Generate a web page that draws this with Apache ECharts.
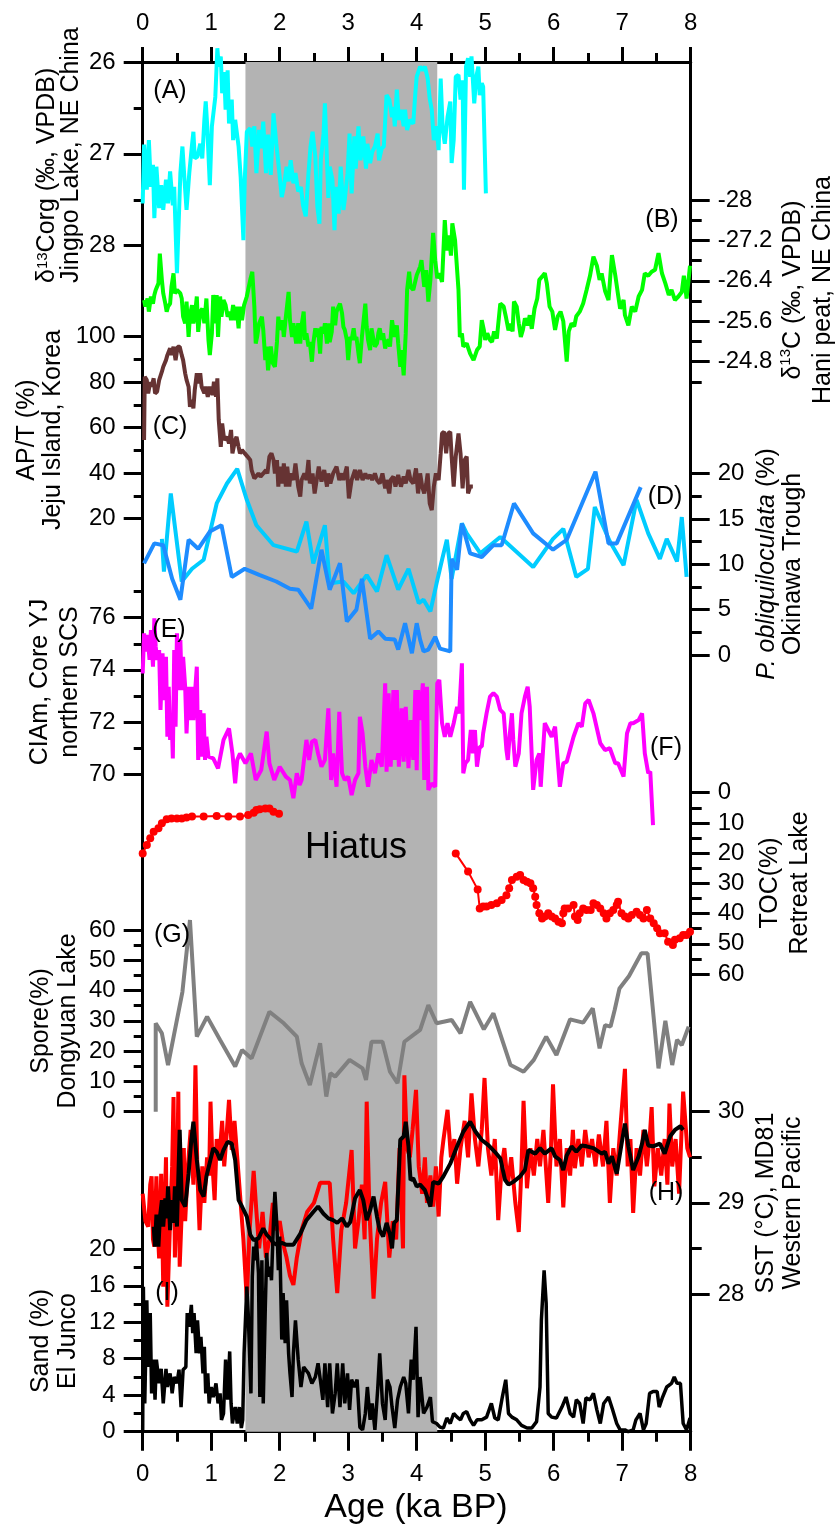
<!DOCTYPE html>
<html>
<head>
<meta charset="utf-8">
<title>Holocene proxy records</title>
<script src="https://cdn.jsdelivr.net/npm/echarts@6/dist/echarts.min.js"></script>
<style>
  html, body { margin: 0; padding: 0; background: #fff; }
  #chart { width: 836px; height: 1526px; }
</style>
</head>
<body>
<div id="chart"></div>
<script>
// ---------- data (age in ka BP, value) ----------
const hiatus = [1.5, 4.3]

// (A) Jingpo Lake d13Corg
const jingpoCorg = [[0.00,27.54],[0.02,26.90],[0.06,27.39],[0.09,26.85],[0.12,27.36],[0.15,27.12],[0.17,27.70],[0.20,27.14],[0.24,27.59],[0.27,27.34],[0.30,27.61],[0.34,27.28],[0.37,27.54],[0.40,27.19],[0.44,27.56],[0.46,27.36],[0.50,28.30],[0.55,27.21],[0.58,26.92],[0.61,27.28],[0.64,27.61],[0.68,27.21],[0.72,26.90],[0.74,26.76],[0.76,27.05],[0.80,27.03],[0.84,26.89],[0.87,27.05],[0.90,26.63],[0.92,26.43],[0.94,26.67],[0.98,27.34],[1.01,26.70],[1.06,26.38],[1.09,25.85],[1.11,26.05],[1.14,25.94],[1.16,26.34],[1.19,26.11],[1.21,26.52],[1.24,26.09],[1.26,26.67],[1.30,26.41],[1.32,26.85],[1.35,26.63],[1.37,26.61],[1.40,26.92],[1.43,27.25],[1.47,27.94],[1.49,27.28],[1.52,26.76],[1.57,26.72],[1.60,26.92],[1.63,26.70],[1.66,27.21],[1.70,26.74],[1.73,26.94],[1.76,26.65],[1.80,27.21],[1.83,26.79],[1.87,27.23],[1.91,26.56],[1.95,26.89],[1.98,27.10],[2.03,27.47],[2.06,27.36],[2.10,27.14],[2.13,27.30],[2.16,27.07],[2.20,27.32],[2.23,27.21],[2.27,27.41],[2.31,27.36],[2.34,27.56],[2.38,27.68],[2.42,27.21],[2.45,26.92],[2.48,26.76],[2.52,27.03],[2.55,27.58],[2.58,27.76],[2.60,27.07],[2.64,26.78],[2.66,26.45],[2.69,27.07],[2.71,27.48],[2.73,27.14],[2.77,27.28],[2.80,27.83],[2.82,27.36],[2.86,27.65],[2.89,27.14],[2.93,27.61],[2.95,27.50],[2.99,27.21],[3.02,26.78],[3.05,27.43],[3.09,26.81],[3.11,27.16],[3.15,26.70],[3.18,27.07],[3.22,26.81],[3.26,27.16],[3.28,26.89],[3.32,27.10],[3.35,26.98],[3.39,26.92],[3.43,26.78],[3.45,27.07],[3.49,26.94],[3.52,26.92],[3.56,26.36],[3.60,26.41],[3.64,26.60],[3.66,26.49],[3.68,26.70],[3.71,26.30],[3.74,26.63],[3.77,26.52],[3.81,26.70],[3.83,26.52],[3.86,26.74],[3.90,26.63],[3.95,26.67],[3.98,26.34],[4.00,26.16],[4.05,26.05],[4.09,26.09],[4.12,26.05],[4.16,26.18],[4.19,26.40],[4.22,26.52],[4.25,26.85],[4.29,26.70],[4.32,26.96],[4.35,26.18],[4.38,26.74],[4.41,26.89],[4.45,26.60],[4.49,26.43],[4.51,27.10],[4.54,26.85],[4.57,26.16],[4.61,26.14],[4.64,26.41],[4.67,26.20],[4.69,27.39],[4.72,26.05],[4.75,25.96],[4.78,26.16],[4.80,25.94],[4.84,26.45],[4.87,26.16],[4.90,26.05],[4.92,26.36],[4.95,26.23],[4.97,26.27],[5.01,27.43]]
const jingpoTicks = [26, 27, 28]
const jingpoMinor = [26.5, 27.5]

// (B) Hani peat d13C
const haniC = [[0.02,-26.02],[0.04,-25.89],[0.07,-26.05],[0.09,-25.79],[0.12,-26.09],[0.15,-25.95],[0.17,-26.12],[0.19,-26.22],[0.23,-26.35],[0.25,-26.94],[0.28,-26.42],[0.30,-26.15],[0.33,-25.95],[0.35,-25.79],[0.37,-25.89],[0.40,-25.95],[0.42,-26.28],[0.45,-26.55],[0.47,-26.15],[0.50,-26.22],[0.55,-26.15],[0.57,-26.05],[0.59,-25.69],[0.62,-25.56],[0.64,-25.99],[0.67,-25.29],[0.69,-25.72],[0.72,-25.92],[0.74,-25.56],[0.76,-25.69],[0.79,-26.09],[0.81,-25.39],[0.84,-25.79],[0.87,-25.85],[0.90,-25.56],[0.93,-26.05],[0.96,-25.23],[0.98,-24.93],[1.01,-25.36],[1.03,-26.12],[1.06,-25.56],[1.08,-26.12],[1.10,-25.29],[1.13,-26.09],[1.15,-25.69],[1.18,-26.02],[1.21,-25.92],[1.24,-25.69],[1.27,-25.79],[1.29,-25.62],[1.32,-25.92],[1.35,-25.62],[1.37,-25.89],[1.40,-25.46],[1.42,-25.89],[1.45,-25.62],[1.48,-25.92],[1.52,-26.09],[1.57,-26.42],[1.60,-26.58],[1.63,-25.89],[1.65,-25.16],[1.67,-25.29],[1.70,-25.56],[1.74,-25.69],[1.76,-25.43],[1.79,-24.83],[1.81,-25.10],[1.83,-24.63],[1.87,-25.10],[1.90,-24.77],[1.93,-24.70],[1.96,-25.19],[1.98,-25.69],[2.00,-25.43],[2.04,-25.62],[2.06,-25.29],[2.09,-25.69],[2.13,-26.18],[2.15,-25.62],[2.18,-25.29],[2.20,-25.56],[2.24,-25.16],[2.27,-25.56],[2.30,-25.16],[2.32,-25.52],[2.35,-25.79],[2.37,-25.23],[2.39,-25.36],[2.42,-25.10],[2.44,-25.19],[2.47,-24.80],[2.49,-25.16],[2.52,-25.46],[2.54,-25.29],[2.56,-25.46],[2.59,-24.96],[2.61,-25.49],[2.64,-25.36],[2.66,-25.56],[2.69,-25.16],[2.71,-25.56],[2.73,-25.19],[2.76,-25.39],[2.78,-25.89],[2.81,-25.52],[2.83,-25.79],[2.86,-25.89],[2.88,-25.95],[2.91,-25.76],[2.93,-25.49],[2.95,-25.43],[2.98,-25.23],[3.00,-24.83],[3.03,-25.29],[3.05,-25.23],[3.08,-25.46],[3.10,-25.23],[3.12,-25.29],[3.15,-24.96],[3.17,-24.77],[3.20,-25.29],[3.22,-25.29],[3.25,-25.95],[3.27,-25.49],[3.29,-25.23],[3.32,-25.03],[3.34,-25.46],[3.37,-25.23],[3.39,-25.10],[3.42,-25.16],[3.44,-25.36],[3.46,-25.46],[3.49,-25.23],[3.51,-25.36],[3.54,-25.06],[3.56,-25.19],[3.59,-25.23],[3.61,-25.10],[3.64,-25.62],[3.66,-25.43],[3.68,-25.29],[3.71,-25.52],[3.73,-25.16],[3.76,-24.70],[3.78,-25.03],[3.81,-24.53],[3.84,-25.36],[3.86,-26.22],[3.89,-26.58],[3.91,-26.28],[3.95,-26.22],[4.00,-26.51],[4.05,-26.68],[4.07,-26.81],[4.11,-26.28],[4.14,-26.61],[4.17,-25.99],[4.20,-26.42],[4.24,-27.35],[4.27,-26.81],[4.30,-26.45],[4.33,-26.55],[4.37,-26.38],[4.41,-27.60],[4.44,-27.00],[4.47,-27.30],[4.50,-26.90],[4.52,-27.54],[4.56,-27.20],[4.61,-26.22],[4.63,-25.29],[4.66,-25.36],[4.68,-25.10],[4.73,-25.16],[4.78,-24.96],[4.83,-24.83],[4.88,-25.03],[4.92,-25.10],[4.95,-25.62],[4.98,-25.43],[5.00,-25.23],[5.03,-25.36],[5.07,-25.23],[5.10,-25.19],[5.13,-25.40],[5.17,-25.26],[5.22,-25.95],[5.27,-25.89],[5.30,-25.70],[5.34,-25.42],[5.37,-25.55],[5.40,-25.40],[5.42,-25.99],[5.46,-25.89],[5.49,-25.56],[5.52,-25.29],[5.55,-25.43],[5.58,-25.66],[5.62,-25.52],[5.65,-25.72],[5.68,-25.45],[5.72,-25.85],[5.76,-26.05],[5.79,-26.42],[5.84,-26.50],[5.87,-26.55],[5.90,-26.35],[5.94,-25.89],[5.98,-25.79],[6.02,-25.43],[6.06,-25.70],[6.10,-25.79],[6.14,-25.60],[6.19,-24.80],[6.22,-25.40],[6.26,-25.56],[6.30,-25.50],[6.33,-25.70],[6.38,-25.79],[6.43,-25.95],[6.48,-26.22],[6.53,-26.50],[6.58,-26.88],[6.63,-26.70],[6.67,-26.42],[6.70,-26.55],[6.75,-26.20],[6.80,-26.02],[6.85,-26.91],[6.90,-26.50],[6.94,-26.12],[6.97,-25.85],[7.02,-26.02],[7.04,-25.72],[7.09,-25.52],[7.14,-25.89],[7.19,-25.79],[7.24,-26.09],[7.29,-26.22],[7.33,-26.55],[7.38,-26.50],[7.43,-26.58],[7.48,-26.62],[7.53,-26.95],[7.58,-26.55],[7.63,-26.35],[7.68,-26.12],[7.72,-26.22],[7.77,-26.02],[7.82,-26.09],[7.87,-26.18],[7.90,-26.50],[7.94,-26.05],[7.99,-26.70]]
const haniTicks = [-28, -27.2, -26.4, -25.6, -24.8]
const haniMinor = [-27.6, -26.8, -26.0, -25.2, -24.4]

// (C) Jeju Island AP/T
const jejuAPT = [[0.02,54.6],[0.03,82.4],[0.06,80.9],[0.08,75.1],[0.11,80.0],[0.13,78.0],[0.16,81.7],[0.18,75.1],[0.21,75.8],[0.24,80.9],[0.28,84.6],[0.30,86.8],[0.34,89.7],[0.36,91.9],[0.40,94.9],[0.42,91.9],[0.45,95.6],[0.48,89.7],[0.51,95.6],[0.54,95.6],[0.57,91.9],[0.59,89.7],[0.62,83.9],[0.64,81.0],[0.67,78.0],[0.69,69.2],[0.72,72.2],[0.74,68.5],[0.76,76.6],[0.79,83.9],[0.81,79.5],[0.84,83.9],[0.86,78.0],[0.90,75.1],[0.92,78.0],[0.95,73.6],[0.98,78.0],[1.02,74.4],[1.04,80.2],[1.07,73.6],[1.09,81.7],[1.11,63.4],[1.14,51.6],[1.16,61.9],[1.19,54.6],[1.23,56.0],[1.26,53.1],[1.29,59.0],[1.31,48.7],[1.35,54.6],[1.37,56.0],[1.40,51.6],[1.42,48.7],[1.45,50.2],[1.49,48.7],[1.53,47.3],[1.57,45.8],[1.59,41.4],[1.63,37.7],[1.65,37.0],[1.69,39.9],[1.72,38.5],[1.76,39.9],[1.80,41.4],[1.82,39.9],[1.85,47.3],[1.88,48.7],[1.91,45.8],[1.93,39.9],[1.96,45.8],[1.98,34.1],[2.00,42.9],[2.04,35.5],[2.06,44.3],[2.09,34.1],[2.11,42.9],[2.14,34.1],[2.16,39.9],[2.20,37.0],[2.23,44.3],[2.27,34.1],[2.30,29.7],[2.32,37.0],[2.36,39.9],[2.39,37.0],[2.42,45.8],[2.44,35.5],[2.48,39.9],[2.51,31.1],[2.54,37.0],[2.57,42.9],[2.61,36.3],[2.65,41.4],[2.69,34.1],[2.71,39.9],[2.74,35.5],[2.78,39.9],[2.83,42.9],[2.87,37.0],[2.91,39.9],[2.93,37.0],[2.98,42.9],[3.01,28.9],[3.05,37.0],[3.10,41.4],[3.13,37.0],[3.17,41.4],[3.21,37.0],[3.25,39.9],[3.28,37.7],[3.32,39.2],[3.35,37.0],[3.39,39.9],[3.42,37.0],[3.46,35.5],[3.50,39.9],[3.54,33.3],[3.56,37.0],[3.60,31.1],[3.62,37.0],[3.66,38.5],[3.69,34.1],[3.73,39.2],[3.77,34.1],[3.81,38.5],[3.84,35.5],[3.88,41.4],[3.91,37.0],[3.95,35.5],[3.99,42.1],[4.02,31.1],[4.05,39.9],[4.08,34.1],[4.11,31.1],[4.14,35.5],[4.16,39.9],[4.19,26.7],[4.22,23.8],[4.25,34.1],[4.28,39.9],[4.32,37.0],[4.35,48.7],[4.37,57.5],[4.40,58.2],[4.43,48.7],[4.46,57.5],[4.49,58.2],[4.51,47.3],[4.54,34.1],[4.57,47.3],[4.61,57.5],[4.64,48.7],[4.67,33.3],[4.70,45.8],[4.73,47.3],[4.75,31.1],[4.78,34.1],[4.82,34.1]]
const jejuTicks = [20, 40, 60, 80, 100]
const jejuMinor = [30, 50, 70, 90]

// (D) Okinawa Trough P. obliquiloculata, two cores
const okinawaLight = [[0.28,12.8],[0.31,9.2],[0.41,17.8],[0.57,8.1],[0.72,9.5],[0.89,10.5],[1.08,16.7],[1.23,18.9],[1.38,20.5],[1.52,17.1],[1.66,14.3],[1.91,12.1],[2.25,11.4],[2.39,14.7],[2.49,10.1],[2.66,14.3],[2.73,7.9],[2.93,8.1],[3.08,6.8],[3.27,8.8],[3.42,7.0],[3.56,11.0],[3.73,7.2],[3.88,9.5],[4.03,5.7],[4.10,6.1],[4.20,4.8],[4.29,7.9],[4.37,10.5],[4.44,12.7],[4.51,8.4],[4.66,14.5],[4.73,13.4],[4.93,11.2],[5.22,13.0],[5.70,9.7],[5.99,12.8],[6.14,13.9],[6.33,8.6],[6.50,9.5],[6.60,16.3],[6.82,12.5],[7.02,9.9],[7.21,17.1],[7.38,13.4],[7.55,10.6],[7.65,12.8],[7.80,10.3],[7.87,15.2],[7.94,8.6]]
const okinawaDark = [[0.02,10.1],[0.17,12.3],[0.30,12.1],[0.43,8.4],[0.55,6.1],[0.67,12.7],[0.81,11.7],[0.98,13.6],[1.15,14.3],[1.30,8.6],[1.49,9.5],[1.71,8.8],[1.95,8.1],[2.15,7.3],[2.27,7.2],[2.46,5.1],[2.61,11.6],[2.73,7.2],[2.88,10.1],[2.98,3.7],[3.12,5.0],[3.20,8.4],[3.32,1.8],[3.44,2.6],[3.54,1.8],[3.68,1.7],[3.73,0.6],[3.83,3.5],[3.93,0.2],[4.00,3.5],[4.05,1.7],[4.10,0.4],[4.17,0.6],[4.27,2.0],[4.34,0.7],[4.49,0.4],[4.51,10.6],[4.59,9.4],[4.66,14.5],[4.78,11.2],[4.95,10.8],[5.12,12.1],[5.24,12.1],[5.42,16.7],[5.70,13.4],[5.99,11.6],[6.19,12.7],[6.61,20.2],[6.80,12.3],[6.92,12.3],[7.27,18.5]]
const okinawaTicks = [0, 5, 10, 15, 20]
const okinawaMinor = [2.5, 7.5, 12.5, 17.5]

// (E) Core YJ CIAm, northern SCS
const yjCIA = [[0.00,73.86],[0.02,75.40],[0.04,74.70],[0.07,75.34],[0.10,74.38],[0.12,75.53],[0.15,74.12],[0.17,75.98],[0.19,74.89],[0.21,74.38],[0.24,74.76],[0.26,72.46],[0.29,74.63],[0.31,72.84],[0.34,74.50],[0.36,71.43],[0.38,73.35],[0.40,71.31],[0.42,72.33],[0.44,70.60],[0.46,74.76],[0.48,71.82],[0.50,75.40],[0.52,73.22],[0.55,75.14],[0.57,73.22],[0.59,74.50],[0.62,73.35],[0.64,71.56],[0.67,73.35],[0.69,72.07],[0.72,73.35],[0.74,72.07],[0.76,72.97],[0.79,74.12],[0.81,70.54],[0.84,72.46],[0.86,70.67],[0.89,72.33],[0.91,70.54],[0.93,71.43],[0.96,70.67],[1.03,70.60],[1.10,70.22],[1.18,71.31],[1.26,71.75],[1.31,70.79],[1.35,69.64],[1.38,70.54],[1.42,70.79],[1.50,70.41],[1.58,70.79],[1.65,69.77],[1.73,70.15],[1.81,71.63],[1.85,70.41],[1.92,69.77],[2.00,70.28],[2.09,69.90],[2.15,69.77],[2.20,69.07],[2.25,70.03],[2.29,69.58],[2.32,69.77],[2.39,71.31],[2.43,70.54],[2.47,71.24],[2.52,71.31],[2.56,70.79],[2.61,70.28],[2.66,70.54],[2.71,72.52],[2.75,69.77],[2.78,70.79],[2.83,69.51],[2.87,72.39],[2.91,70.03],[2.95,69.77],[3.00,69.90],[3.05,69.19],[3.10,69.77],[3.15,70.03],[3.17,72.20],[3.21,71.56],[3.25,70.28],[3.29,69.51],[3.34,70.54],[3.39,70.03],[3.44,70.79],[3.49,70.28],[3.54,73.48],[3.56,70.09],[3.59,73.10],[3.62,70.28],[3.66,73.22],[3.68,70.54],[3.71,73.22],[3.74,70.28],[3.78,72.52],[3.81,70.47],[3.84,72.58],[3.88,70.22],[3.91,72.07],[3.95,70.54],[3.98,73.22],[4.00,70.15],[4.02,73.22],[4.05,72.07],[4.09,73.48],[4.11,69.77],[4.15,73.35],[4.17,69.39],[4.22,69.64],[4.27,69.51],[4.30,73.48],[4.33,73.61],[4.37,71.95],[4.41,71.43],[4.45,71.95],[4.49,71.43],[4.54,71.95],[4.59,72.58],[4.62,72.33],[4.66,74.25],[4.68,70.03],[4.71,70.41],[4.75,70.54],[4.79,71.69],[4.82,70.79],[4.85,71.69],[4.88,70.28],[4.92,71.05],[4.95,71.05],[4.97,71.56],[5.02,72.33],[5.07,72.97],[5.12,73.10],[5.17,72.97],[5.22,72.46],[5.27,72.33],[5.31,70.92],[5.33,70.54],[5.36,71.56],[5.39,72.33],[5.41,71.31],[5.44,70.28],[5.49,70.79],[5.53,72.33],[5.58,72.97],[5.62,73.35],[5.65,72.58],[5.70,69.39],[5.75,70.54],[5.79,70.79],[5.81,69.51],[5.87,71.95],[5.92,71.69],[5.97,71.43],[6.02,71.82],[6.09,69.51],[6.14,70.41],[6.19,70.47],[6.29,71.43],[6.36,71.95],[6.41,71.82],[6.46,72.71],[6.51,72.84],[6.58,72.33],[6.68,71.18],[6.75,70.92],[6.82,70.99],[6.90,70.41],[6.94,70.41],[7.02,69.90],[7.07,71.56],[7.12,71.95],[7.16,71.95],[7.24,72.07],[7.29,72.33],[7.33,70.79],[7.38,70.03],[7.41,70.09],[7.45,68.04]]
const yjTicks = [70, 72, 74, 76]
const yjMinor = [71, 73, 75, 77]

// (F) Retreat Lake TOC
const retreatTocEarly = [[0.00,20.1],[0.06,17.3],[0.11,15.1],[0.16,12.9],[0.23,11.8],[0.28,10.1],[0.35,8.8],[0.42,8.5],[0.50,8.5],[0.57,8.5],[0.64,8.2],[0.72,7.9],[0.89,7.9],[1.08,7.7],[1.25,7.9],[1.42,7.9],[1.54,7.4],[1.62,6.6],[1.66,5.7],[1.71,5.5],[1.79,5.2],[1.85,5.2],[1.91,6.3],[1.99,7.0]]
const retreatTocLate = [[4.57,20.1],[4.75,26.1],[4.89,32.0],[4.92,38.3],[4.97,37.7],[5.02,37.7],[5.09,37.2],[5.17,36.6],[5.24,35.5],[5.31,33.9],[5.35,31.6],[5.39,28.9],[5.46,27.8],[5.51,27.2],[5.56,28.9],[5.61,29.5],[5.66,30.0],[5.70,31.6],[5.73,34.4],[5.75,37.2],[5.79,39.9],[5.83,41.6],[5.87,41.0],[5.92,39.9],[5.97,41.0],[6.02,41.6],[6.07,42.7],[6.12,43.2],[6.14,39.9],[6.16,38.3],[6.21,38.3],[6.29,37.2],[6.31,41.0],[6.35,42.1],[6.38,39.9],[6.43,38.3],[6.48,38.8],[6.54,38.8],[6.58,36.6],[6.63,37.2],[6.68,38.3],[6.73,39.9],[6.77,41.6],[6.82,39.9],[6.87,38.8],[6.92,37.2],[6.94,36.1],[6.99,39.9],[7.04,41.0],[7.09,41.6],[7.14,40.5],[7.21,39.4],[7.26,40.5],[7.31,41.6],[7.36,38.8],[7.41,41.6],[7.46,43.2],[7.51,44.9],[7.55,46.5],[7.62,46.5],[7.67,49.3],[7.74,50.4],[7.77,48.7],[7.84,48.2],[7.89,47.1],[7.94,47.1],[7.99,46.0]]
const tocTicks = [0, 10, 20, 30, 40, 50, 60]
const tocMinor = [5, 15, 25, 35, 45, 55]

// (G) Dongyuan Lake spore
const dongyuanSpore = [[0.19,0],[0.19,29.2],[0.28,25.9],[0.37,15.4],[0.58,39.6],[0.69,63.3],[0.79,24.8],[0.94,31.4],[1.13,23.7],[1.35,14.9],[1.45,20.4],[1.59,17.6],[1.85,33.0],[2.06,29.2],[2.25,24.8],[2.32,16.0],[2.44,8.8],[2.59,22.6],[2.68,5.0],[2.74,12.7],[2.81,11.6],[3.02,17.1],[3.21,14.3],[3.26,10.5],[3.34,23.1],[3.50,23.1],[3.61,13.2],[3.72,9.4],[3.82,23.1],[4.05,27.0],[4.17,35.2],[4.29,29.2],[4.51,30.3],[4.64,25.9],[4.78,36.3],[4.98,27.2],[5.12,32.5],[5.37,15.4],[5.56,13.2],[5.71,17.1],[5.89,24.8],[6.04,18.7],[6.24,30.5],[6.43,29.4],[6.57,34.1],[6.67,20.9],[6.75,28.6],[6.83,28.1],[6.89,33.6],[6.96,40.7],[7.10,44.8],[7.28,52.3],[7.37,52.3],[7.53,14.3],[7.63,30.0],[7.73,15.4],[7.80,23.7],[7.87,22.0],[7.97,28.1]]
const sporeTicks = [0, 10, 20, 30, 40, 50, 60]
const sporeMinor = [5, 15, 25, 35, 45, 55]

// (H) MD81 SST, raw and smoothed
const md81Sst = [[0.00,29.10],[0.04,28.80],[0.08,28.74],[0.11,29.20],[0.13,29.29],[0.15,28.60],[0.17,28.52],[0.20,29.29],[0.22,28.70],[0.24,28.39],[0.27,29.32],[0.30,28.08],[0.32,28.90],[0.34,29.50],[0.36,27.86],[0.40,28.81],[0.43,29.40],[0.45,30.16],[0.47,28.40],[0.50,29.10],[0.52,30.22],[0.54,28.30],[0.57,28.90],[0.60,29.60],[0.62,28.80],[0.66,29.40],[0.70,29.80],[0.74,29.20],[0.77,30.51],[0.80,29.30],[0.83,28.70],[0.87,29.40],[0.90,29.00],[0.94,29.50],[0.97,29.30],[0.99,30.11],[1.02,29.40],[1.05,29.03],[1.08,29.70],[1.12,29.50],[1.16,29.90],[1.19,29.40],[1.23,29.80],[1.26,30.13],[1.30,29.58],[1.34,29.90],[1.38,29.50],[1.42,29.10],[1.47,28.60],[1.52,27.93],[1.56,28.70],[1.62,29.35],[1.66,28.90],[1.70,28.50],[1.75,28.90],[1.80,28.40],[1.85,28.60],[1.90,29.00],[1.95,28.70],[2.00,28.80],[2.05,28.55],[2.10,28.40],[2.15,28.20],[2.20,28.10],[2.25,28.40],[2.32,28.70],[2.40,28.90],[2.50,29.00],[2.59,29.22],[2.66,29.22],[2.73,29.22],[2.78,28.60],[2.84,28.01],[2.90,28.70],[2.97,29.00],[3.05,29.58],[3.10,28.50],[3.15,28.80],[3.20,29.20],[3.24,28.60],[3.27,30.11],[3.31,28.90],[3.37,27.95],[3.42,28.60],[3.48,29.00],[3.54,29.23],[3.60,28.40],[3.65,28.80],[3.70,28.60],[3.75,29.60],[3.80,28.50],[3.82,30.40],[3.86,29.60],[3.90,29.50],[3.94,29.80],[3.99,30.24],[4.03,29.40],[4.08,29.10],[4.12,29.50],[4.15,29.00],[4.20,29.30],[4.24,28.96],[4.28,29.40],[4.32,28.85],[4.36,29.50],[4.39,29.69],[4.45,30.02],[4.50,29.50],[4.55,29.70],[4.59,29.21],[4.64,29.60],[4.70,29.90],[4.75,29.50],[4.80,30.20],[4.85,29.70],[4.90,29.40],[4.95,29.80],[4.99,30.37],[5.04,29.60],[5.09,29.30],[5.14,29.70],[5.19,28.81],[5.24,29.40],[5.28,29.60],[5.33,29.20],[5.38,29.50],[5.44,29.00],[5.49,28.68],[5.53,29.40],[5.56,30.12],[5.61,29.16],[5.66,29.60],[5.71,29.30],[5.76,29.70],[5.80,29.40],[5.85,29.80],[5.92,29.00],[5.96,29.60],[5.99,30.30],[6.04,29.40],[6.09,29.70],[6.14,28.95],[6.19,29.60],[6.24,29.30],[6.28,29.80],[6.31,29.38],[6.36,29.70],[6.41,29.40],[6.46,29.80],[6.51,29.50],[6.56,29.70],[6.61,29.40],[6.66,29.75],[6.72,29.40],[6.77,29.90],[6.82,29.00],[6.87,29.60],[6.92,29.30],[6.97,29.80],[7.04,30.47],[7.08,29.40],[7.12,29.70],[7.16,28.89],[7.21,29.60],[7.26,29.30],[7.31,29.80],[7.36,29.40],[7.40,29.70],[7.43,30.05],[7.47,29.18],[7.52,29.60],[7.57,29.30],[7.62,29.70],[7.66,29.20],[7.69,30.09],[7.73,29.40],[7.78,29.70],[7.83,29.10],[7.89,30.22],[7.95,29.60],[7.99,29.50]]
const md81Smooth = [[0.16,28.74],[0.18,28.52],[0.20,28.87],[0.23,28.52],[0.25,28.83],[0.28,29.03],[0.30,28.74],[0.33,29.05],[0.35,28.83],[0.37,29.18],[0.40,28.70],[0.42,29.03],[0.45,28.78],[0.47,29.18],[0.50,28.74],[0.54,29.80],[0.57,29.03],[0.62,28.96],[0.67,29.32],[0.71,29.69],[0.74,29.89],[0.79,29.47],[0.84,29.14],[0.89,29.07],[0.93,29.29],[1.03,29.60],[1.08,29.56],[1.13,29.47],[1.18,29.58],[1.24,29.67],[1.30,29.65],[1.35,29.47],[1.40,29.03],[1.45,28.96],[1.52,28.85],[1.57,28.65],[1.62,28.59],[1.69,28.61],[1.76,28.72],[1.81,28.65],[1.86,28.61],[1.91,28.56],[1.96,28.54],[2.03,28.56],[2.10,28.54],[2.20,28.54],[2.30,28.66],[2.39,28.81],[2.49,28.90],[2.56,28.96],[2.64,28.88],[2.71,28.83],[2.78,28.81],[2.84,28.78],[2.91,28.83],[2.98,28.74],[3.03,28.79],[3.10,29.05],[3.17,29.14],[3.22,29.03],[3.27,28.81],[3.32,28.92],[3.37,29.07],[3.42,28.85],[3.46,28.70],[3.51,28.63],[3.56,28.78],[3.61,28.65],[3.64,28.50],[3.67,28.78],[3.71,28.81],[3.76,29.69],[3.81,29.73],[3.84,29.89],[3.88,29.62],[3.91,29.25],[3.95,29.27],[4.00,29.18],[4.05,29.20],[4.12,29.14],[4.20,28.96],[4.24,29.23],[4.32,29.21],[4.39,29.29],[4.49,29.43],[4.59,29.62],[4.68,29.78],[4.78,29.89],[4.86,29.78],[4.95,29.69],[5.05,29.63],[5.14,29.56],[5.22,29.49],[5.29,29.25],[5.34,29.20],[5.41,29.23],[5.51,29.29],[5.58,29.36],[5.63,29.58],[5.73,29.54],[5.80,29.60],[5.87,29.54],[5.97,29.60],[6.02,29.51],[6.09,29.47],[6.14,29.36],[6.19,29.52],[6.26,29.62],[6.33,29.56],[6.41,29.63],[6.48,29.62],[6.58,29.60],[6.70,29.54],[6.75,29.56],[6.80,29.43],[6.85,29.51],[6.92,29.32],[7.00,29.69],[7.04,29.87],[7.09,29.62],[7.16,29.36],[7.24,29.51],[7.29,29.65],[7.33,29.80],[7.38,29.63],[7.45,29.62],[7.55,29.65],[7.62,29.54],[7.70,29.73],[7.77,29.80],[7.85,29.84],[7.89,29.80]]
const sstTicks = [28, 29, 30]
const sstMinor = [28.5, 29.5]

// (I) El Junco sand
const elJuncoSand = [[0.00,0.2],[0.01,15.9],[0.03,3.1],[0.06,14.4],[0.08,7.1],[0.11,13.0],[0.13,4.2],[0.16,7.9],[0.18,3.5],[0.20,7.9],[0.24,5.3],[0.27,6.9],[0.30,3.1],[0.34,6.9],[0.36,4.9],[0.40,6.4],[0.43,4.2],[0.46,6.0],[0.50,5.3],[0.53,6.8],[0.56,2.7],[0.59,6.8],[0.63,7.1],[0.65,13.0],[0.68,11.5],[0.71,13.9],[0.73,10.8],[0.75,13.0],[0.78,8.6],[0.80,12.2],[0.83,8.6],[0.85,10.4],[0.88,6.4],[0.90,9.3],[0.92,4.2],[0.95,6.4],[0.97,3.1],[1.00,4.9],[1.03,3.8],[1.07,5.3],[1.10,3.1],[1.13,4.2],[1.15,1.3],[1.18,2.0],[1.21,7.9],[1.24,3.5],[1.27,8.8],[1.29,3.1],[1.31,0.9],[1.35,2.7],[1.38,0.9],[1.41,2.7],[1.44,0.4],[1.46,1.3],[1.48,8.6],[1.52,15.9],[1.54,13.0],[1.58,4.2],[1.60,17.0],[1.62,20.3],[1.64,18.8],[1.66,21.0],[1.69,17.4],[1.71,3.8],[1.74,18.8],[1.76,3.1],[1.79,13.7],[1.81,19.6],[1.83,17.0],[1.86,18.1],[1.88,16.6],[1.91,23.2],[1.93,26.3],[1.96,22.5],[1.98,17.7],[2.00,21.4],[2.03,10.1],[2.05,15.2],[2.08,9.7],[2.10,14.4],[2.13,8.6],[2.15,6.4],[2.18,3.8],[2.20,8.6],[2.23,12.2],[2.27,7.9],[2.31,4.9],[2.35,7.1],[2.38,6.8],[2.42,6.4],[2.47,5.3],[2.52,6.0],[2.56,7.5],[2.60,5.3],[2.63,3.5],[2.66,7.5],[2.70,2.7],[2.73,7.5],[2.77,2.0],[2.81,4.2],[2.84,7.5],[2.88,2.7],[2.92,7.5],[2.95,3.1],[2.99,6.4],[3.02,2.4],[3.05,5.7],[3.09,4.9],[3.13,5.7],[3.17,0.5],[3.21,0.2],[3.25,2.0],[3.28,4.9],[3.32,1.3],[3.35,3.1],[3.39,0.2],[3.43,4.6],[3.46,8.6],[3.50,3.1],[3.54,1.3],[3.57,5.7],[3.61,4.9],[3.64,2.7],[3.68,0.4],[3.72,3.5],[3.76,4.9],[3.81,6.0],[3.84,5.3],[3.88,2.0],[3.92,7.9],[3.95,5.7],[3.99,11.5],[4.02,1.6],[4.05,6.0],[4.10,2.0],[4.15,2.7],[4.20,3.8],[4.23,1.1],[4.29,0.9],[4.34,0.5],[4.39,0.4],[4.44,1.5],[4.49,0.9],[4.54,2.0],[4.59,1.6],[4.64,1.3],[4.68,2.0],[4.73,2.2],[4.78,1.3],[4.83,0.7],[4.88,1.3],[4.95,1.3],[5.02,1.6],[5.09,3.1],[5.14,1.5],[5.19,1.3],[5.25,3.8],[5.30,5.7],[5.34,2.0],[5.39,1.6],[5.46,1.3],[5.53,0.7],[5.61,0.4],[5.68,0.4],[5.75,1.1],[5.80,4.9],[5.82,12.2],[5.86,17.7],[5.89,14.1],[5.92,2.0],[5.97,1.6],[6.04,1.5],[6.12,2.7],[6.18,3.8],[6.24,2.0],[6.29,1.6],[6.33,3.5],[6.38,3.1],[6.43,0.9],[6.47,3.7],[6.53,3.5],[6.58,4.2],[6.63,2.4],[6.68,0.9],[6.73,3.1],[6.80,3.8],[6.86,2.4],[6.92,0.9],[6.97,0.2],[7.04,0.2],[7.09,0.0],[7.16,0.2],[7.20,1.3],[7.26,2.0],[7.31,0.2],[7.35,0.9],[7.40,4.2],[7.45,4.4],[7.51,4.4],[7.54,2.7],[7.59,3.8],[7.65,4.9],[7.72,5.3],[7.76,6.0],[7.80,5.3],[7.85,5.3],[7.89,0.9],[7.94,0.2],[7.99,1.5]]
const sandTicks = [0, 4, 8, 12, 16, 20]
const sandMinor = [2, 6, 10, 14, 18]

// ---------- layout ----------
const FONT = 'Liberation Sans, Arial, Helvetica, sans-serif'
const PLOT_LEFT = 142.7
const PLOT_RIGHT = 836 - 690.7
const FRAME_TOP = 62
const FRAME_BOTTOM = 1526 - 1431.7

// pixel span of each stacked axis (top, bottom)
const panels = [
  { top: 62, bottom: 245.7, side: 'left', min: 26, max: 28, inverse: true, major: jingpoTicks, minor: jingpoMinor },
  { top: 200, bottom: 381.9, side: 'right', min: -28, max: -24.4, inverse: true, major: haniTicks, minor: haniMinor },
  { top: 336.7, bottom: 518.7, side: 'left', min: 20, max: 100, major: jejuTicks, minor: jejuMinor },
  { top: 473.5, bottom: 655, side: 'right', min: 0, max: 20, major: okinawaTicks, minor: okinawaMinor },
  { top: 591.7, bottom: 774, side: 'left', min: 70, max: 77, major: yjTicks, minor: yjMinor },
  { top: 792.7, bottom: 974, side: 'right', min: 0, max: 60, inverse: true, major: tocTicks, minor: tocMinor },
  { top: 930, bottom: 1111.7, side: 'left', min: 0, max: 60, major: sporeTicks, minor: sporeMinor },
  { top: 1111.7, bottom: 1294, side: 'right', min: 28, max: 30, major: sstTicks, minor: sstMinor },
  { top: 1249.3, bottom: 1431.7, side: 'left', min: 0, max: 20, major: sandTicks, minor: sandMinor }
]

const black = { color: '#000', width: 3 }

const grids = [{ left: PLOT_LEFT, right: PLOT_RIGHT, top: FRAME_TOP, bottom: FRAME_BOTTOM, outerBoundsMode: 'none' }]
const xAxes = [
  {
    type: 'value', gridIndex: 0, position: 'top', min: 0, max: 8, interval: 1,
    axisLine: { show: true, onZero: false, lineStyle: black },
    axisTick: { show: true, inside: false, length: 15, lineStyle: black },
    minorTick: { show: true, splitNumber: 2, length: 9, lineStyle: black },
    axisLabel: { margin: 27, fontSize: 24, color: '#000', fontFamily: FONT },
    splitLine: { show: false }, minorSplitLine: { show: false }
  },
  {
    type: 'value', gridIndex: 0, position: 'bottom', min: 0, max: 8, interval: 1,
    axisLine: { show: true, onZero: false, lineStyle: black },
    axisTick: { show: true, inside: false, length: 19, lineStyle: black },
    minorTick: { show: true, splitNumber: 2, length: 10, lineStyle: black },
    axisLabel: { margin: 31, fontSize: 24, color: '#000', fontFamily: FONT },
    splitLine: { show: false }, minorSplitLine: { show: false }
  }
]
const frameY = (position) => ({
  type: 'value', gridIndex: 0, position, min: 0, max: 1,
  axisLine: { show: true, onZero: false, lineStyle: black },
  axisTick: { show: false }, axisLabel: { show: false }, splitLine: { show: false }
})
const yAxes = [frameY('left'), frameY('right')]

panels.forEach((p, i) => {
  grids.push({ left: PLOT_LEFT, right: PLOT_RIGHT, top: p.top, height: p.bottom - p.top, outerBoundsMode: 'none' })
  xAxes.push({ type: 'value', gridIndex: i + 1, min: 0, max: 8, show: false })
  const base = {
    type: 'value', gridIndex: i + 1, position: p.side, min: p.min, max: p.max, inverse: !!p.inverse,
    axisLine: { show: false, onZero: false }, splitLine: { show: false }
  }
  yAxes.push(Object.assign({}, base, {
    axisTick: { show: true, inside: false, length: 19, lineStyle: black, customValues: p.major },
    axisLabel: { show: true, margin: 27, fontSize: 24, color: '#000', fontFamily: FONT, customValues: p.major }
  }))
  yAxes.push(Object.assign({}, base, {
    axisTick: { show: true, inside: false, length: p.side === 'left' ? 9 : 11, lineStyle: black, customValues: p.minor },
    axisLabel: { show: false }
  }))
})

function line(panel, data, color, width, extra) {
  return Object.assign({
    type: 'line', xAxisIndex: panel + 2, yAxisIndex: 2 + panel * 2, data,
    symbol: 'none', clip: false, silent: true, z: 3,
    lineStyle: { color, width }, itemStyle: { color }
  }, extra || {})
}

const tocStyle = { symbol: 'circle', symbolSize: 8, showSymbol: true }

const series = [
  {
    type: 'line', xAxisIndex: 0, yAxisIndex: 0, data: [[0, 0]], showSymbol: false, silent: true, z: 1,
    lineStyle: { width: 0 },
    markArea: { silent: true, itemStyle: { color: '#b3b3b3' }, data: [[{ xAxis: hiatus[0] }, { xAxis: hiatus[1] }]] }
  },
  line(0, jingpoCorg, '#00ffff', 4),
  line(1, haniC, '#00ff00', 4),
  line(2, jejuAPT, '#663333', 4),
  line(3, okinawaLight, '#00ccff', 4),
  line(3, okinawaDark, '#1e8cff', 4),
  line(4, yjCIA, '#ff00ff', 4),
  line(5, retreatTocEarly, '#ff0000', 2, tocStyle),
  line(5, retreatTocLate, '#ff0000', 2, tocStyle),
  line(6, dongyuanSpore, '#808080', 4),
  line(7, md81Sst, '#ff0000', 4),
  line(7, md81Smooth, '#000000', 4),
  line(8, elJuncoSand, '#000000', 3.5)
]

// rotated two-line axis titles
function title(x, y, text, lh, align) {
  return {
    type: 'text', x, y, rotation: Math.PI / 2, z: 100, silent: true,
    style: {
      text, align: align || 'center', verticalAlign: 'middle',
      fontSize: 25, fontFamily: FONT, fill: '#000', lineHeight: lh,
      rich: {
        s: { fontSize: 15, lineHeight: 14, verticalAlign: 'top', fontFamily: FONT, fill: '#000' },
        i: { fontSize: 25, lineHeight: lh, fontStyle: 'italic', fontFamily: FONT, fill: '#000' }
      }
    }
  }
}
function tag(x, y, text, size) {
  return {
    type: 'text', x, y, z: 100, silent: true,
    style: { text, align: 'center', verticalAlign: 'middle', fontSize: size || 25, fontFamily: FONT, fill: '#000' }
  }
}

const graphic = [
  title(59, 283, 'δ{s|13}Corg (‰, VPDB)\nJingpo Lake, NE China', 24, 'left'),
  title(808, 290, 'δ{s|13}C (‰, VPDB)\nHani peat, NE China', 30),
  title(40, 430, 'AP/T (%)\nJeju Island, Korea', 26),
  title(780, 564, '{i|P. obliquiloculata} (%)\nOkinawa Trough', 26),
  title(55, 682, 'CIAm, Core YJ\nnorthern SCS', 30),
  title(785, 883, 'TOC(%)\nRetreat Lake', 30),
  title(54.5, 1021, 'Spore(%)\nDongyuan Lake', 27),
  title(779.5, 1203, 'SST (°C), MD81\nWestern Pacific', 27),
  title(54.5, 1341, 'Sand (%)\nEl Junco', 27),
  tag(170, 91, '(A)'),
  tag(662, 220, '(B)'),
  tag(170, 427, '(C)'),
  tag(665, 497, '(D)'),
  tag(169, 630, '(E)'),
  tag(666, 748, '(F)'),
  tag(172, 935, '(G)'),
  tag(666, 1193, '(H)'),
  tag(167, 1293, '(I)'),
  tag(356, 848, 'Hiatus', 36),
  tag(416, 1508, 'Age (ka BP)', 34)
]

const chart = echarts.init(document.getElementById('chart'), null, { renderer: 'canvas' })
chart.setOption({
  animation: false,
  backgroundColor: '#fff',
  grid: grids,
  xAxis: xAxes,
  yAxis: yAxes,
  series,
  graphic
})
</script>
</body>
</html>
